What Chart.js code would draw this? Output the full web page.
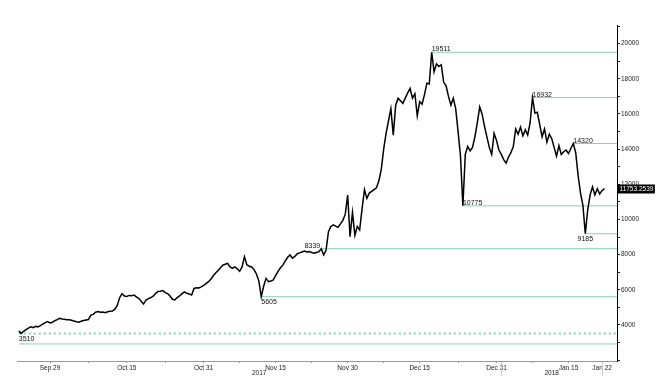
<!DOCTYPE html>
<html>
<head>
<meta charset="utf-8">
<style>html,body{margin:0;padding:0;background:#fff}canvas{display:block}</style>
<script src="https://cdn.jsdelivr.net/npm/chart.js@4/dist/chart.umd.min.js"></script>
</head>
<body>
<canvas id="c" width="663" height="382" style="width:663px;height:382px"></canvas>
<script>
// ---------- DATA ----------
// Price series, one value every 12 hours starting 2017-09-22 12:00 UTC
const priceValues = [
  3650,3520,3640,3740,3820,3900,3850,3920,3890,3960,
  4050,4130,4190,4110,4150,4240,4300,4380,4340,4330,
  4300,4290,4270,4220,4180,4160,4210,4250,4280,4310,
  4560,4600,4720,4760,4720,4740,4700,4750,4780,4790,
  4900,5100,5550,5780,5650,5620,5680,5660,5700,5600,
  5500,5350,5190,5420,5500,5560,5640,5800,5900,5920,
  5960,5840,5780,5650,5460,5420,5560,5650,5780,5880,
  5800,5760,5700,6080,6120,6100,6170,6250,6350,6460,
  6600,6800,6950,7100,7250,7400,7450,7500,7300,7220,
  7300,7200,7050,7300,7880,7420,7340,7300,7150,6900,
  6500,5605,6200,6650,6460,6500,6560,6800,7050,7250,
  7400,7650,7850,7980,7800,7900,8050,8100,8150,8200,
  8150,8170,8120,8080,8120,8170,8339,7980,8250,9300,
  9600,9690,9620,9560,9750,9950,10300,11390,9020,10400,
  9100,9600,9400,10600,11700,11200,11500,11600,11700,11800,
  12200,12850,14000,14900,15600,16300,14800,16500,16900,16750,
  16600,16900,17200,17460,16900,17150,15900,16700,16550,17100,
  17750,17700,19511,18400,18850,18700,18800,17800,17600,17000,
  16500,16900,16300,15000,13600,10775,13700,14150,13900,14100,
  14700,15500,16400,16000,15300,14700,14100,13700,14900,14500,
  13950,13700,13400,13200,13550,13800,14150,15150,14850,15250,
  14750,15100,14800,15500,16932,16050,16100,15400,14700,15150,
  14400,14850,14600,14100,13600,14200,13700,13850,13950,13750,
  14050,14320,13800,12500,11500,10800,9185,10550,11400,11850,
  11400,11750,11450,11650,11753.2539
];
const seriesStartUTC = Date.UTC(2017, 8, 22, 12);
const stepHours = 12;
const categories = priceValues.map((_, i) => new Date(seriesStartUTC + i * stepHours * 3600000));

// Marked levels (highs / lows)
const levelValues = [19511, 16932, 14320, 10775, 9185, 8339, 5605, 3510];
const supportValue = 2920;

// X axis tick labels
const xTickLabels = ['Sep 29','Oct 15','Oct 31','Nov 15','Nov 30','Dec 15','Dec 31','Jan 15','Jan 22'];
const xTickDates  = ['2017-09-29','2017-10-15','2017-10-31','2017-11-15','2017-11-30','2017-12-15','2017-12-31','2018-01-15','2018-01-22'];
const yearLabels  = ['2017','2018'];
const yearEnds    = ['2018-01-01','2018-01-22'];

// Y axis ticks
const yTickValues = [];
for (let v = 2000; v <= 21000; v += 1000) yTickValues.push(v);

// ---------- STYLE / LAYOUT ----------
const FONT = '"Liberation Sans", Arial, sans-serif';
const levelColor = '#84d2b8';
const levelStyle = ['above','above','above','above','below-center','above-left','below','below'];
const levelFromStart = [false,false,false,false,false,false,false,true];
const levelDashed = [false,false,false,false,false,false,false,true];

const DAY = 86400000;
const axisOrigin = Date.UTC(2017, 8, 29);
const toDay = t => (t - axisOrigin) / DAY;
const xs = categories.map(d => toDay(d.getTime()));
const xMin = -6.875, xMax = 118.1;
const yMin = 1950, yMax = 21060;

const xTickValues = xTickDates.map(s => toDay(Date.parse(s + 'T00:00:00Z')));
const minorTicks = [];
for (let i = 0; i < xTickValues.length - 2; i++) minorTicks.push((xTickValues[i] + xTickValues[i+1]) / 2);
const yearEndDays = yearEnds.map(s => toDay(Date.parse(s + 'T00:00:00Z')));

const datasets = [{
  data: xs.map((x, i) => ({x, y: priceValues[i]})),
  borderColor: '#000', borderWidth: 1.5, pointRadius: 0, tension: 0, order: 0
}];
const levelStartX = levelValues.map((v, i) => levelFromStart[i] ? xs[0] : xs[priceValues.indexOf(v)]);
levelValues.forEach((v, i) => {
  datasets.push({
    data: [{x: levelStartX[i], y: v}, {x: xMax, y: v}],
    borderColor: levelColor, borderWidth: levelDashed[i] ? 2 : 1,
    borderDash: levelDashed[i] ? [2, 3] : [], pointRadius: 0, order: 1
  });
});
datasets.push({
  data: [{x: xs[0], y: supportValue}, {x: xMax, y: supportValue}],
  borderColor: levelColor, borderWidth: 1, pointRadius: 0, order: 1
});

const overlay = {
  id: 'overlay',
  afterDraw(chart) {
    const {ctx, chartArea} = chart;
    const x = chart.scales.x, y = chart.scales.y;
    ctx.save();
    // level labels
    ctx.font = '7px ' + FONT;
    ctx.fillStyle = '#111';
    levelValues.forEach((v, i) => {
      const py = y.getPixelForValue(v);
      const px = x.getPixelForValue(levelStartX[i]);
      const t = String(v);
      const s = levelStyle[i];
      if (s === 'above') { ctx.textAlign = 'left'; ctx.textBaseline = 'alphabetic'; ctx.fillText(t, px, py - 1); }
      else if (s === 'above-left') { ctx.textAlign = 'right'; ctx.textBaseline = 'alphabetic'; ctx.fillText(t, px - 1, py - 1); }
      else if (s === 'below') { ctx.textAlign = 'left'; ctx.textBaseline = 'top'; ctx.fillText(t, px, py + 2); }
      else { ctx.textAlign = 'center'; ctx.textBaseline = 'top'; ctx.fillText(t, px, py + 2); }
    });
    // year labels and separators
    ctx.font = '6.5px ' + FONT;
    ctx.fillStyle = '#222';
    ctx.textAlign = 'center'; ctx.textBaseline = 'middle';
    let prev = chartArea.left;
    yearLabels.forEach((lab, i) => {
      const end = x.getPixelForValue(yearEndDays[i]);
      ctx.fillText(lab, (prev + end) / 2, chartArea.bottom + 12);
      ctx.strokeStyle = '#c8c8c8'; ctx.lineWidth = 1;
      ctx.beginPath();
      ctx.moveTo(Math.round(end) + 0.5, chartArea.bottom + 1);
      ctx.lineTo(Math.round(end) + 0.5, chartArea.bottom + 15);
      ctx.stroke();
      prev = end;
    });
    // last price box
    const last = priceValues[priceValues.length - 1];
    const py = Math.round(y.getPixelForValue(last));
    const txt = last.toFixed(4);
    ctx.font = '6.5px ' + FONT;
    const w = ctx.measureText(txt).width + 3;
    ctx.fillStyle = '#000';
    ctx.fillRect(chartArea.right + 1, py - 4.5, w, 9);
    ctx.fillStyle = '#fff';
    ctx.textAlign = 'left'; ctx.textBaseline = 'middle';
    ctx.fillText(txt, chartArea.right + 2.5, py + 0.5);
    ctx.restore();
  }
};

new Chart(document.getElementById('c'), {
  type: 'line',
  data: { datasets },
  options: {
    responsive: false, animation: false, devicePixelRatio: 1,
    layout: { padding: { left: 17, top: 25, right: 0, bottom: 0 } },
    plugins: { legend: { display: false }, tooltip: { enabled: false } },
    scales: {
      x: {
        type: 'linear', position: 'bottom', min: xMin, max: xMax,
        afterBuildTicks: s => { s.ticks = xTickValues.concat(minorTicks).sort((a,b)=>a-b).map(v => ({value: v})); },
        afterFit: s => { s.height = 21; },
        grid: { drawOnChartArea: false, tickLength: 2, color: '#999' },
        border: { color: '#999' },
        ticks: {
          autoSkip: false, maxRotation: 0, padding: 1, color: '#222',
          font: { size: 6.5, family: FONT },
          callback: v => { const i = xTickValues.findIndex(t => Math.abs(t - v) < 1e-6); return i >= 0 ? xTickLabels[i] : ''; }
        }
      },
      y: {
        type: 'linear', position: 'right', min: yMin, max: yMax,
        afterBuildTicks: s => { s.ticks = yTickValues.map(v => ({value: v})); },
        afterFit: s => { s.width = 46; },
        grid: { drawOnChartArea: false, tickLength: 3, color: '#222' },
        border: { color: '#000' },
        ticks: {
          padding: 1, color: '#222', font: { size: 6.5, family: FONT },
          callback: v => (v % 2000 === 0 && v > 2000) ? String(v) : ''
        }
      }
    }
  },
  plugins: [overlay]
});
</script>
</body>
</html>
